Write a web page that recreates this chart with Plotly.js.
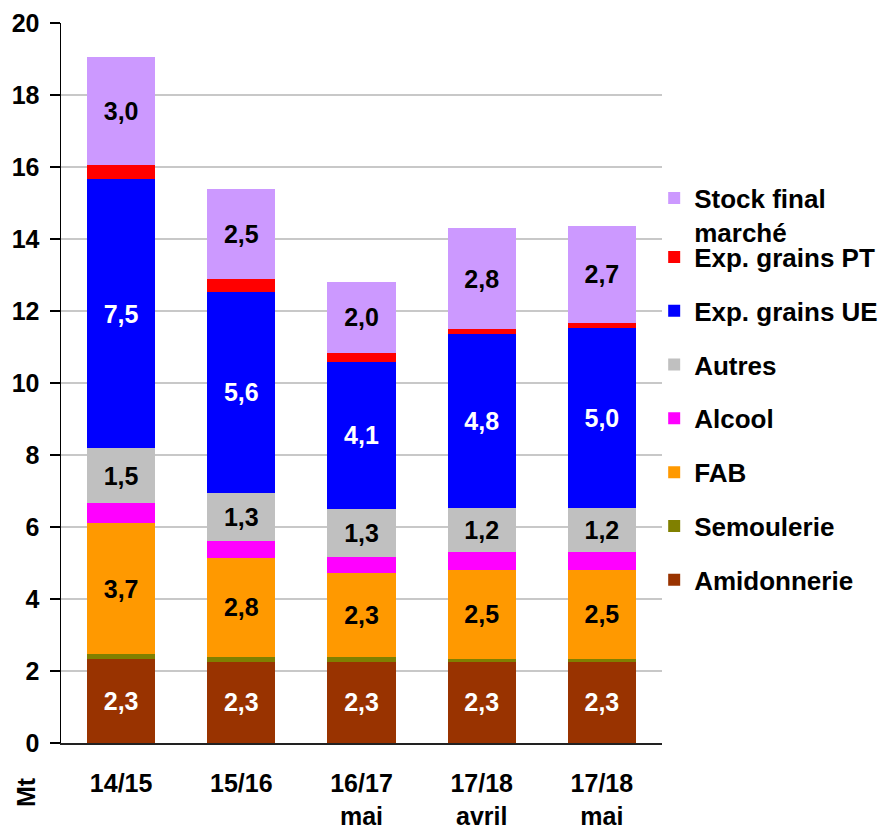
<!DOCTYPE html>
<html>
<head>
<meta charset="utf-8">
<script src="https://cdn.plot.ly/plotly-3.0.1.min.js"></script>
<style>html,body{margin:0;padding:0;background:#fff;}#chart{width:880px;height:827px;}</style>
</head>
<body>
<div id="chart"></div>
<script>
const categories = ['14/15', '15/16', '16/17 mai', '17/18 avril', '17/18 mai'];
const tickLabels = ['14/15', '15/16', '16/17<br>mai', '17/18<br>avril', '17/18<br>mai'];

const amidonnerie = [2.32, 2.26, 2.26, 2.26, 2.26];
const semoulerie  = [0.14, 0.14, 0.14, 0.08, 0.08];
const fab         = [3.66, 2.75, 2.31, 2.46, 2.46];
const alcool      = [0.55, 0.46, 0.47, 0.50, 0.50];
const autres      = [1.52, 1.34, 1.33, 1.22, 1.22];
const expUE       = [7.48, 5.59, 4.08, 4.83, 5.00];
const expPT       = [0.38, 0.36, 0.25, 0.15, 0.14];
const stockFinal  = [3.00, 2.50, 1.97, 2.80, 2.71];

const seriesNames = ['Amidonnerie', 'Semoulerie', 'FAB', 'Alcool', 'Autres',
                     'Exp. grains UE', 'Exp. grains PT', 'Stock final<br>marché'];
const seriesValues = [amidonnerie, semoulerie, fab, alcool, autres, expUE, expPT, stockFinal];
const seriesColors = ['#993300', '#808000', '#FF9900', '#FF00FF', '#C0C0C0',
                      '#0000FF', '#FF0000', '#CC99FF'];
const labelColors = ['#FFFFFF', null, '#000000', null, '#000000', '#FFFFFF', null, '#000000'];

const FONT = 'Arial, "Liberation Sans", sans-serif';

const traces = seriesNames.map((name, i) => {
  const t = {
    type: 'bar',
    name: name,
    x: categories,
    y: seriesValues[i],
    marker: {color: seriesColors[i], line: {width: 0}},
    legendgroup: 'g' + i,
    legendrank: 100 - i,
    legend: (i === seriesNames.length - 1) ? 'legend2' : 'legend',
    hoverinfo: 'skip'
  };
  if (labelColors[i]) {
    t.texttemplate = '%{y:.1f}';
    t.textposition = 'inside';
    t.insidetextanchor = 'middle';
    t.textangle = 0;
    t.constraintext = 'none';
    t.insidetextfont = {family: FONT, size: 25, weight: 'bold', color: labelColors[i]};
  } else {
    t.textposition = 'none';
  }
  return t;
});

const legendFont = {family: FONT, size: 26, weight: 'bold', color: '#000000'};

const layout = {
  width: 880,
  height: 827,
  margin: {l: 61, r: 218, t: 23, b: 84, autoexpand: false},
  paper_bgcolor: '#FFFFFF',
  plot_bgcolor: '#FFFFFF',
  separators: ', ',
  barmode: 'stack',
  bargap: 0.433,
  font: {family: FONT, size: 25, color: '#000000', weight: 'bold'},
  showlegend: true,
  legend: {
    x: 0.987, xanchor: 'left',
    y: 0.7076, yanchor: 'top',
    traceorder: 'grouped',
    tracegroupgap: 17,
    itemwidth: 30,
    font: legendFont,
    bgcolor: 'rgba(0,0,0,0)'
  },
  legend2: {
    x: 0.987, xanchor: 'left',
    y: 0.7895, yanchor: 'top',
    valign: 'top',
    itemwidth: 30,
    font: legendFont,
    bgcolor: 'rgba(0,0,0,0)'
  },
  xaxis: {
    type: 'category',
    tickvals: categories,
    ticktext: tickLabels,
    showline: true,
    linecolor: '#222222',
    linewidth: 2,
    ticks: '',
    showgrid: false,
    zeroline: false,
    ticklabelstandoff: 17,
    tickfont: {family: FONT, size: 25, weight: 'bold', color: '#000000'}
  },
  yaxis: {
    range: [0, 20],
    dtick: 2,
    tick0: 0,
    showline: true,
    linecolor: '#000000',
    linewidth: 1.5,
    ticks: 'outside',
    ticklen: 10,
    tickwidth: 1.5,
    tickcolor: '#000000',
    showgrid: true,
    gridcolor: '#C8C8C8',
    gridwidth: 1.5,
    zeroline: false,
    ticklabelstandoff: 5,
    tickfont: {family: FONT, size: 25, weight: 'bold', color: '#000000'}
  },
  annotations: [{
    text: 'Mt',
    xref: 'paper', yref: 'paper',
    x: -0.058, y: -0.068,
    xanchor: 'center', yanchor: 'middle',
    textangle: -90,
    showarrow: false,
    font: {family: FONT, size: 25, weight: 'bold', color: '#000000'}
  }]
};

Plotly.newPlot('chart', traces, layout, {displayModeBar: false, staticPlot: true});
</script>
</body>
</html>
